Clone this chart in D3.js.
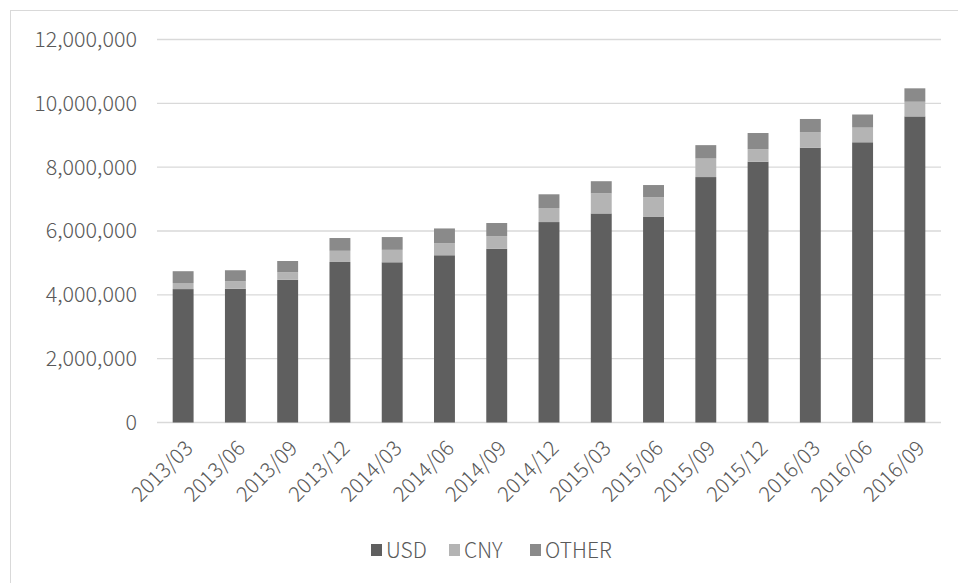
<!DOCTYPE html>
<html>
<head>
<meta charset="utf-8">
<script src="https://cdn.jsdelivr.net/npm/d3@7/dist/d3.min.js"></script>
<style>
  html, body { margin: 0; padding: 0; background: #fff; }
  svg { display: block; }
  text { font-family: "Noto Sans CJK SC", "Noto Sans", sans-serif; font-weight: 300; fill: #595959; }
</style>
</head>
<body>
<script>
// Quarterly currency breakdown (stacked)
const categories = ["2013/03","2013/06","2013/09","2013/12","2014/03","2014/06","2014/09","2014/12",
                    "2015/03","2015/06","2015/09","2015/12","2016/03","2016/06","2016/09"];
const usd   = [4180000,4190000,4470000,5030000,5020000,5240000,5440000,6280000,6550000,6440000,7690000,8170000,8610000,8780000,9590000];
const cny   = [190000,240000,240000,350000,390000,380000,400000,440000,630000,620000,580000,390000,490000,460000,460000];
const other = [370000,340000,350000,400000,400000,460000,410000,430000,380000,380000,420000,510000,410000,410000,420000];
const seriesNames = ["USD","CNY","OTHER"];
const yTicks = [0,2000000,4000000,6000000,8000000,10000000,12000000];

const colors = { USD: "#5f5f5f", CNY: "#b4b4b4", OTHER: "#8a8a8a" };

const W = 958, H = 583;
const plot = { left: 157, right: 941, top: 39.5, bottom: 422.5 };

const svg = d3.select("body").append("svg").attr("width", W).attr("height", H);

// chart frame
svg.append("rect").attr("x", 10.5).attr("y", 10.5).attr("width", W + 20).attr("height", H + 20)
  .attr("fill", "none").attr("stroke", "#d9d9d9").attr("stroke-width", 1);

const table = categories.map((c, i) => ({ cat: c, USD: usd[i], CNY: cny[i], OTHER: other[i] }));
const stacked = d3.stack().keys(seriesNames)(table);

const x = d3.scaleBand().domain(categories).range([plot.left, plot.right]).paddingInner(0.6).paddingOuter(0.3);
const y = d3.scaleLinear().domain([0, 12000000]).range([plot.bottom, plot.top]);

// gridlines
svg.append("g").selectAll("line").data(yTicks).join("line")
  .attr("x1", plot.left).attr("x2", plot.right)
  .attr("y1", d => y(d)).attr("y2", d => y(d))
  .attr("stroke", "#d9d9d9").attr("stroke-width", 1.3);

// y axis labels
const yAxis = d3.axisLeft(y).tickValues(yTicks).tickFormat(d3.format(",")).tickSize(0).tickPadding(20);
const gy = svg.append("g").attr("transform", `translate(${plot.left},0)`).call(yAxis);
gy.select(".domain").remove();
gy.selectAll("text").attr("font-size", 21.5).attr("fill", "#595959")
  .style("font-family", '"Noto Sans CJK SC", sans-serif').style("font-weight", 300);

// bars
svg.append("g").selectAll("g").data(stacked).join("g")
  .attr("fill", d => colors[d.key])
  .selectAll("rect").data(d => d).join("rect")
  .attr("x", d => x(d.data.cat))
  .attr("width", x.bandwidth())
  .attr("y", d => y(d[1]))
  .attr("height", d => y(d[0]) - y(d[1]));

// x axis labels
const xAxis = d3.axisBottom(x).tickSize(0).tickPadding(0);
const gx = svg.append("g").attr("transform", `translate(0,${plot.bottom})`).call(xAxis);
gx.select(".domain").remove();
gx.selectAll("text")
  .attr("font-size", 21).attr("fill", "#595959")
  .style("font-family", '"Noto Sans CJK SC", sans-serif').style("font-weight", 300)
  .attr("text-anchor", "end")
  .attr("dy", "0")
  .attr("transform", "translate(11,27) rotate(-45)");

// legend
const legendItems = [
  { key: "USD", x: 371 },
  { key: "CNY", x: 449 },
  { key: "OTHER", x: 530 }
];
const lg = svg.append("g");
legendItems.forEach(it => {
  lg.append("rect").attr("x", it.x).attr("y", 544).attr("width", 11).attr("height", 12).attr("fill", colors[it.key]);
  lg.append("text").attr("x", it.x + 15).attr("y", 558).attr("font-size", 21).text(it.key);
});
</script>
</body>
</html>
